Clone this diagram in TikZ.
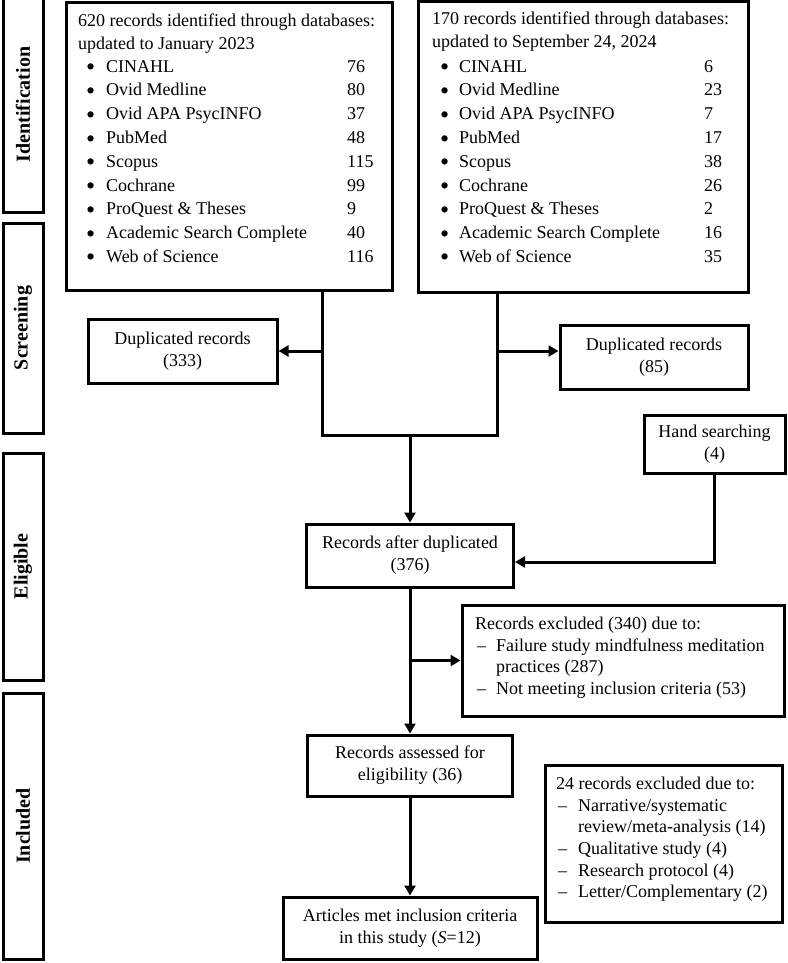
\documentclass[tikz,border=0pt]{standalone}
\usepackage{fontspec}
\setmainfont{Liberation Serif}
\usetikzlibrary{arrows.meta}

\begin{document}
\begin{tikzpicture}[x=1pt, y=-1pt,
  every node/.style={font=\fontsize{18}{22}\selectfont},
  box/.style={draw, line width=3pt, inner sep=0pt, align=center},
  stage/.style={draw, line width=3pt, rotate=90, inner sep=0pt, minimum height=40pt, font=\fontsize{20}{22}\selectfont\bfseries},
  lbl/.style={anchor=west, inner sep=0pt, text height=13pt, text depth=4pt},
  bul/.style={lbl, yshift=-3.5pt, font=\fontsize{26}{26}\selectfont},
  conn/.style={line width=3pt},
  arr/.style={conn, -{Triangle[length=10pt, width=11pt]}}
]
\useasboundingbox (0,0) rectangle (787,963);

% Stage bands
\node[stage, minimum width=215pt] (sId) at (23,104.5) {Identification};
\node[stage, minimum width=210pt] (sScr) at (23,328) {Screening};
\node[stage, minimum width=227pt] (sElig) at (23,566.5) {Eligible};
\node[stage, minimum width=266pt] (sInc) at (23,826) {Included};

% Source boxes
\node[box, minimum width=326pt, minimum height=287pt] (srcL) at (229,146.5) {};
\node[box, minimum width=330pt, minimum height=290pt] (srcR) at (583,147) {};

% Search 1 - January 2023
\node[lbl] (hdrL1) at (78,22) {620 records identified through databases:};
\node[lbl] (hdrL2) at (78,45) {updated to January 2023};
\foreach \db/\n [count=\i] in {CINAHL/76, Ovid Medline/80, Ovid APA PsycINFO/37, PubMed/48, Scopus/115, Cochrane/99, ProQuest \& Theses/9, Academic Search Complete/40, Web of Science/116} {
  \node[bul] (bL\i) at (86,44+23.75*\i) {\textbullet};
  \node[lbl] (dbL\i) at (106,44+23.75*\i) {\db};
  \node[lbl] (nL\i) at (347,44+23.75*\i) {\n};
}

% Search 2 - September 2024
\node[lbl] (hdrR1) at (432,20) {170 records identified through databases:};
\node[lbl] (hdrR2) at (432,43) {updated to September 24, 2024};
\foreach \db/\n [count=\i] in {CINAHL/6, Ovid Medline/23, Ovid APA PsycINFO/7, PubMed/17, Scopus/38, Cochrane/26, ProQuest \& Theses/2, Academic Search Complete/16, Web of Science/35} {
  \node[bul] (bR\i) at (440,44+23.75*\i) {\textbullet};
  \node[lbl] (dbR\i) at (459,44+23.75*\i) {\db};
  \node[lbl] (nR\i) at (704,44+23.75*\i) {\n};
}

% Merge of both searches
\coordinate (jL) at (322,435);
\coordinate (jR) at (497,435);
\coordinate (jM) at (410,435);
\draw[conn] (srcL.south -| jL) -- (jL) -- (jR) -- (srcR.south -| jR);

% Duplicates
\node[box, minimum width=189pt, minimum height=64pt] (dupL) at (182.5,351) {Duplicated records\\(333)};
\node[box, minimum width=188pt, minimum height=64pt] (dupR) at (654,357) {Duplicated records\\(85)};
\draw[arr] (jL |- dupL.east) -- (dupL.east);
\draw[arr] (jR |- dupL.east) -- (dupR.west |- dupL.east);

% Hand searching and records after duplicates
\node[box, minimum width=141pt, minimum height=58pt] (hand) at (714.5,444) {Hand searching\\(4)};
\node[box, minimum width=207pt, minimum height=63pt] (after) at (410,555.5) {Records after duplicated\\(376)};
\draw[arr] (jM) -- (after.north);
\draw[arr] (hand.south) |- ([yshift=-6.5pt]after.east);

% Excluded after screening
\node[box, minimum width=322pt, minimum height=111pt] (excl) at (623,660.5) {};
\node[lbl] (ex0) at (475,625) {Records excluded (340) due to:};
\node[lbl] (ex1d) at (477,647) {--};
\node[lbl] (ex1) at (496,647) {Failure study mindfulness meditation};
\node[lbl] (ex1b) at (496,668) {practices (287)};
\node[lbl] (ex2d) at (477,690) {--};
\node[lbl] (ex2) at (496,690) {Not meeting inclusion criteria (53)};

% Eligibility and inclusion
\node[box, minimum width=205pt, minimum height=61pt] (assess) at (410,765.5) {Records assessed for\\eligibility (36)};
\node[box, minimum width=254pt, minimum height=62pt] (art) at (410,928) {Articles met inclusion criteria\\in this study (\textit{S}=12)};
\draw[arr] (after.south) -- (assess.north);
\draw[arr] (after.south |- excl.west) -- (excl.west);
\draw[arr] (assess.south) -- (art.north);

% Full-text exclusions
\node[box, minimum width=237pt, minimum height=157pt] (rej) at (663.5,843.5) {};
\node[lbl] (rj0) at (556,785) {24 records excluded due to:};
\node[lbl] (rj1d) at (558,807) {--};
\node[lbl] (rj1) at (578,807) {Narrative/systematic};
\node[lbl] (rj1b) at (578,828) {review/meta-analysis (14)};
\node[lbl] (rj2d) at (558,850) {--};
\node[lbl] (rj2) at (578,850) {Qualitative study (4)};
\node[lbl] (rj3d) at (558,872) {--};
\node[lbl] (rj3) at (578,872) {Research protocol (4)};
\node[lbl] (rj4d) at (558,893) {--};
\node[lbl] (rj4) at (578,893) {Letter/Complementary (2)};

\end{tikzpicture}
\end{document}
